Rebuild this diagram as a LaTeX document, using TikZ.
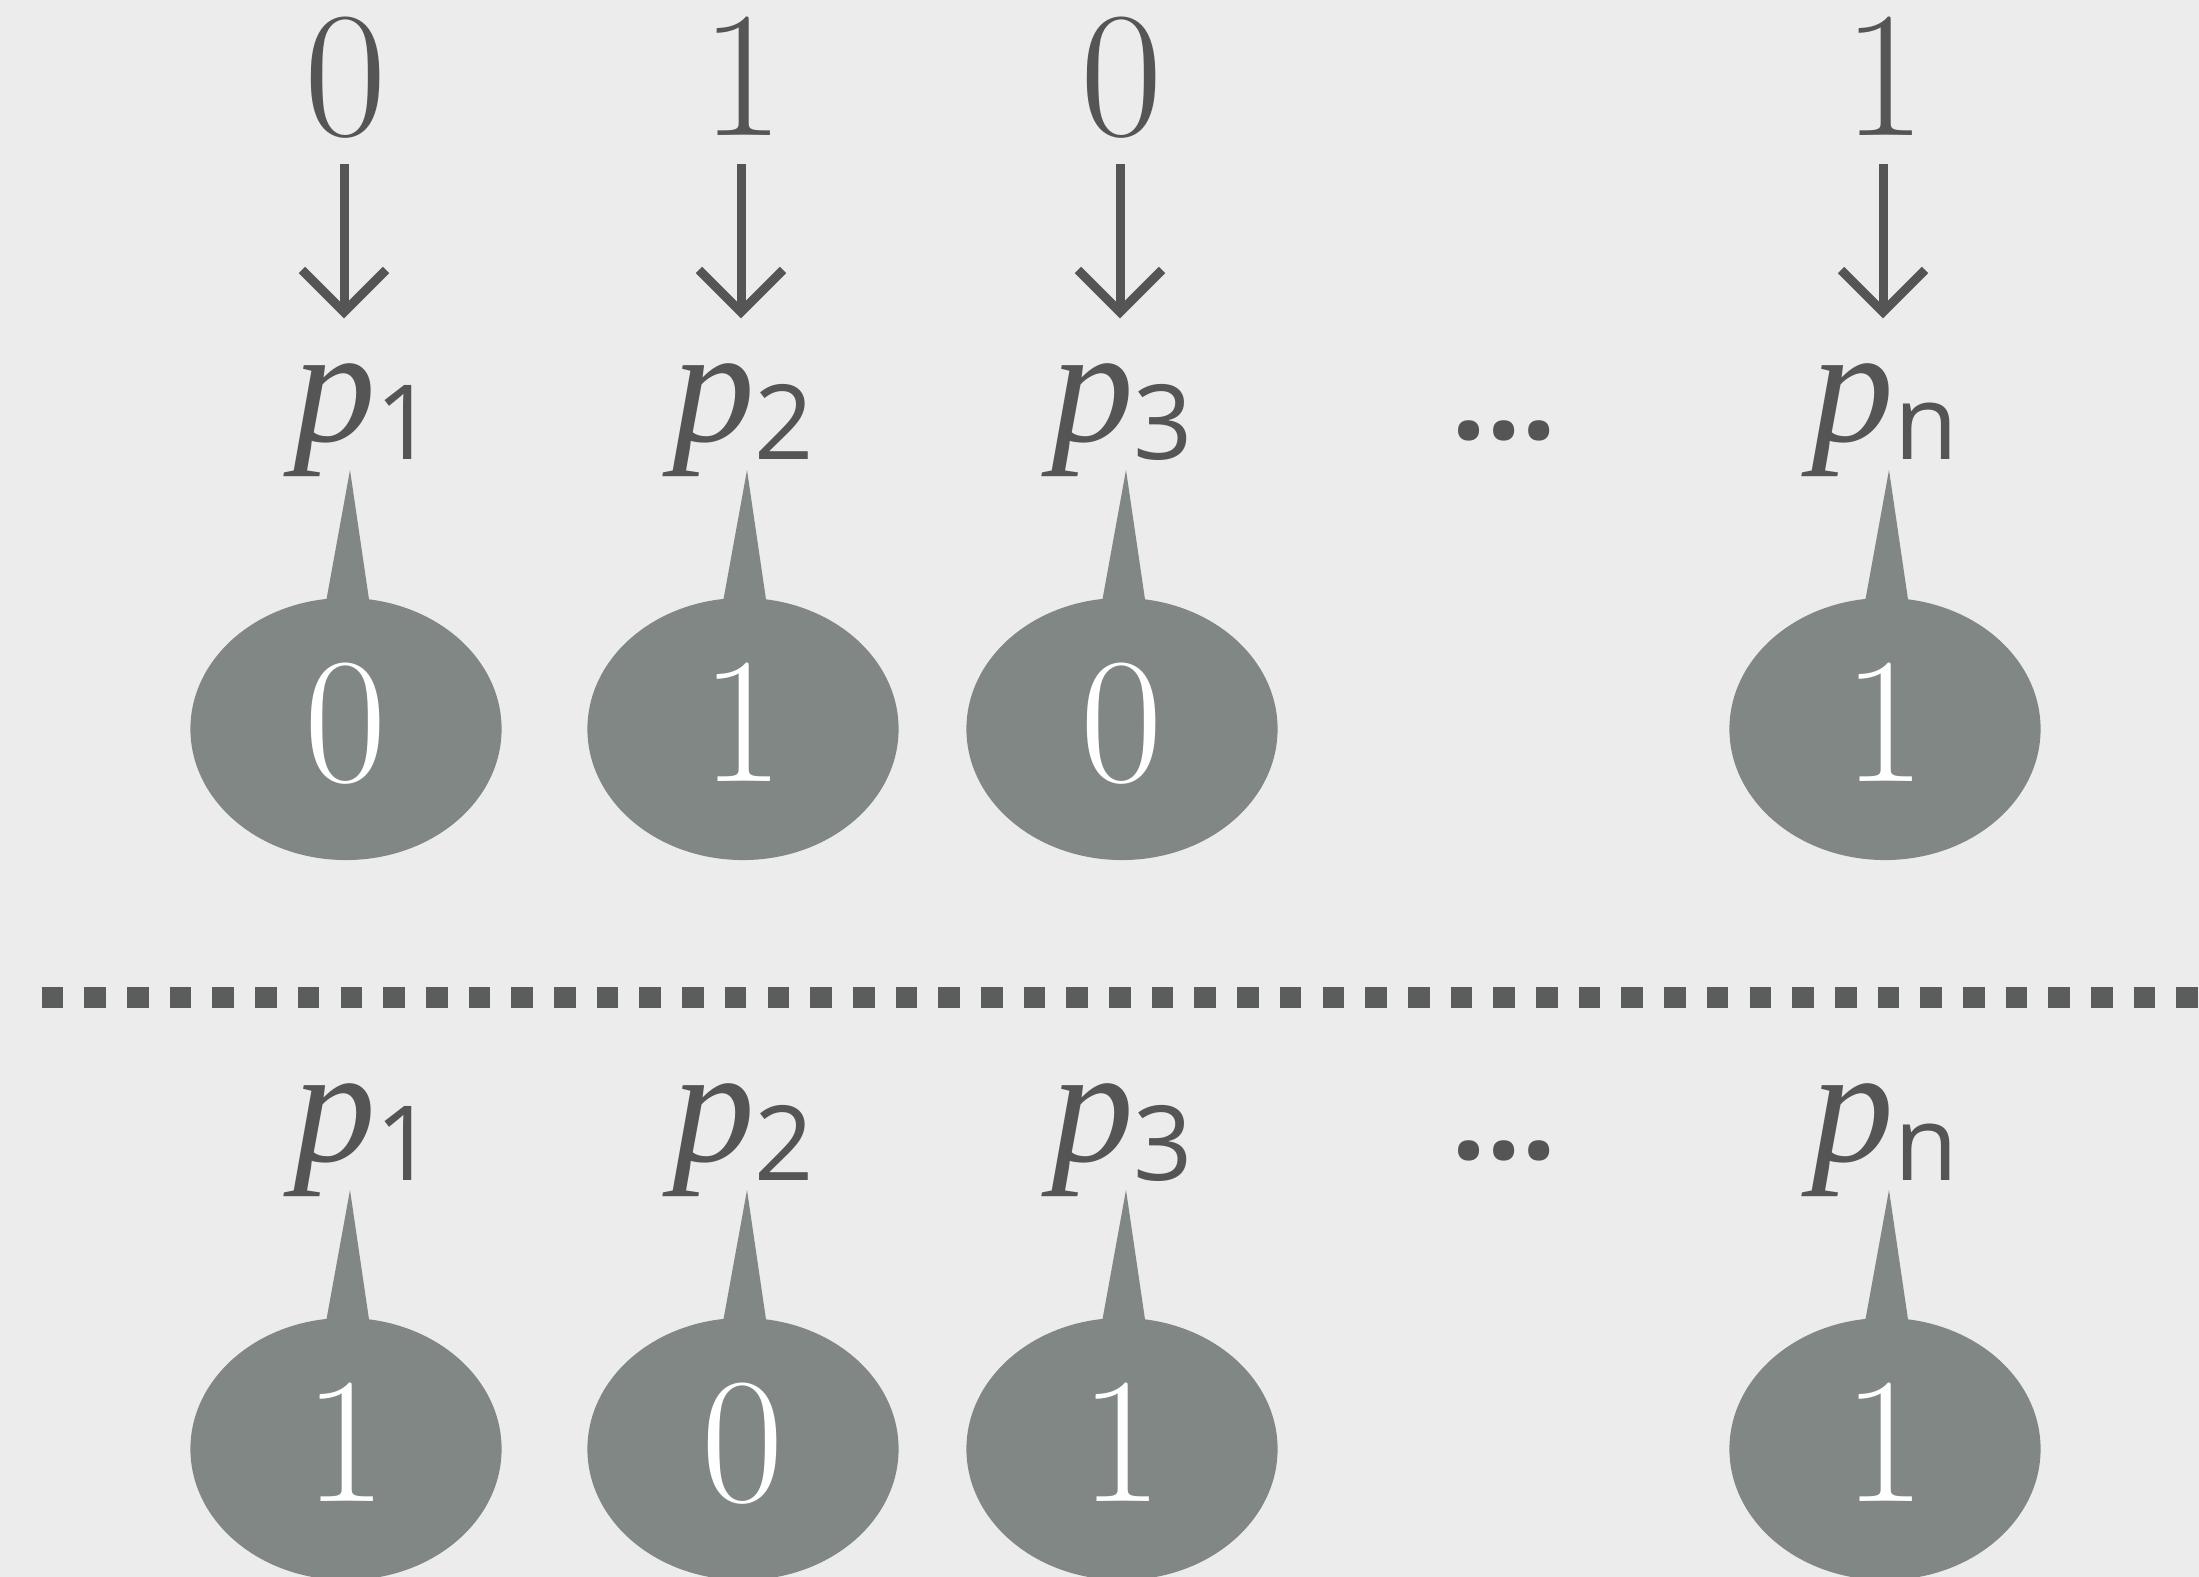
\documentclass[tikz,border=0pt]{standalone}
\usepackage{fontspec}
\newfontfamily\pfont{Liberation Serif}
\newfontfamily\sfont{Open Sans}
\usetikzlibrary{calc,shapes.geometric}
\definecolor{bg}{HTML}{ECECEC}
\definecolor{ink}{HTML}{555555}
\definecolor{bub}{HTML}{818784}
\definecolor{dotc}{HTML}{5A5D5B}
\newcommand{\plabel}[1]{{\itshape p}\raisebox{-1.8mm}{\sfont\fontsize{29.5}{30}\selectfont #1}}
\tikzset{
  topdigit/.style={font=\fontsize{51}{51}\selectfont, text=ink, inner sep=0pt, anchor=base, text depth=0pt},
  plab/.style={font=\pfont\fontsize{47}{47}\selectfont, text=ink, inner sep=0pt, anchor=base, text height=21.6pt, text depth=0pt},
  bubble/.style={ellipse, fill=bub, text=white, minimum width=3.11cm, minimum height=2.62cm, inner sep=0pt,
    font=\fontsize{51}{51}\selectfont, text height=32.6pt, text depth=3pt},
  flip/.style={draw=ink, line width=0.9mm, line cap=butt, line join=miter},
  pointer/.style={fill=bub},
  sepline/.style={draw=dotc, line width=2.16mm, dash pattern=on 2.16mm off 2.107mm},
  dotsnode/.style={font=\sfont\bfseries\fontsize{35}{35}\selectfont, text=ink, inner sep=0pt, anchor=base}
}
\begin{document}
\begin{tikzpicture}[x=0.01cm,y=-0.01cm]
\useasboundingbox (0,0) rectangle (2199,1577);
\clip (0,0) rectangle (2199,1577);
\fill[bg] (0,0) rectangle (2199,1577);

% separator
\draw[sepline] (41.7,997.5) -- (2230,997.5);

% upper row
\foreach \i/\x/\lx/\top/\bot/\sub in {1/346/364/0/0/1, 2/743/743/1/1/2, 3/1122/1122/0/0/3, n/1885/1885/1/1/n}{
  \node[topdigit] (t\i) at (\x,136) {\top};
  \node[plab] (p\i) at (\lx,442) {\plabel{\sub}};
  \coordinate (s\i) at ($(t\i.south)+(-2,27)$);
  \coordinate (h\i) at (s\i |- 0,312);
  \draw[flip] (s\i) -- (h\i);
  \draw[flip] ($(h\i)+(-42,-42)$) -- (h\i) -- ($(h\i)+(42,-42)$);
  \fill[pointer] ($(\x,729)+(4,-259)$) -- ($(\x,729)+(-22,-116)$) -- ($(\x,729)+(25,-116)$) -- cycle;
  \node[bubble] (b\i) at (\x,729) {\bot};
}
\node[dotsnode] (dotsA) at (1504,440) {…};

% lower row
\foreach \i/\x/\lx/\bot/\sub in {1/346/364/1/1, 2/743/743/0/2, 3/1122/1122/1/3, n/1885/1885/1/n}{
  \node[plab] (q\i) at (\lx,1162) {\plabel{\sub}};
  \fill[pointer] ($(\x,1449)+(4,-259)$) -- ($(\x,1449)+(-22,-116)$) -- ($(\x,1449)+(25,-116)$) -- cycle;
  \node[bubble] (c\i) at (\x,1449) {\bot};
}
\node[dotsnode] (dotsB) at (1504,1160) {…};
\end{tikzpicture}
\end{document}
